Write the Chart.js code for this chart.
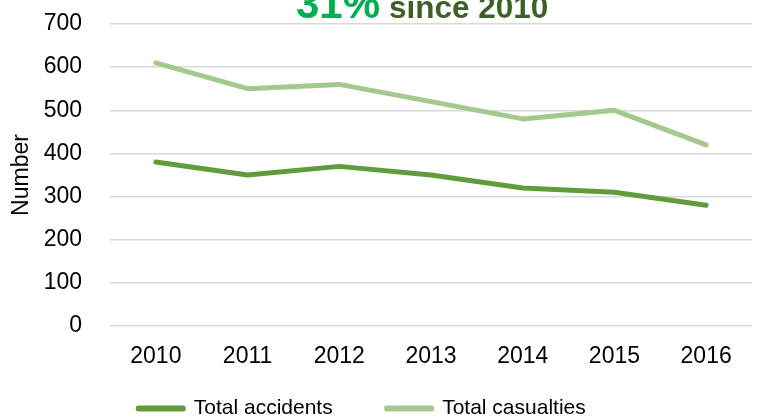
<!DOCTYPE html>
<html lang="en">
<head>
    <meta charset="UTF-8">
    <title>Accidents and casualties</title>
    <style>
        html, body { margin: 0; padding: 0; background: #fff; }
        #wrap { width: 761px; height: 419px; position: relative; }
    </style>
    <script src="https://cdn.jsdelivr.net/npm/chart.js"></script>
</head>
<body>
<div id="wrap"><canvas id="mychart" width="761" height="419"></canvas></div>
<script>
    // data
    const years = ['2010', '2011', '2012', '2013', '2014', '2015', '2016'];
    const accidents = [380, 350, 370, 350, 320, 310, 280];
    const casualties = [610, 550, 560, 520, 480, 500, 420];
    const yTicks = [0, 100, 200, 300, 400, 500, 600, 700];

    const FONT = "'Liberation Sans', Arial, sans-serif";

    // headline, partly cut off at the top like the original
    const headline = {
        id: 'headline',
        afterDraw(chart) {
            const ctx = chart.ctx;
            ctx.save();
            ctx.textBaseline = 'alphabetic';
            ctx.textAlign = 'left';
            ctx.font = 'bold 42px ' + FONT;
            ctx.fillStyle = '#00b050';
            ctx.fillText('31%', 296, 18);
            ctx.font = 'bold 31.5px ' + FONT;
            ctx.fillStyle = '#3b6128';
            ctx.fillText('since 2010', 389, 18);
            ctx.restore();
        }
    };

    // legend: small box for the layout, then stretched up/left so the items sit like the original
    const legendFix = {
        id: 'legendFix',
        afterInit(chart) {
            const lg = chart.legend;
            const fit = lg.fit;
            lg.fit = function () {
                fit.call(this);
                this.height = 41;
            };
        },
        afterLayout(chart) {
            const lg = chart.legend;
            lg.top -= 34;
            lg.height += 34;
            lg.left -= 18;
            lg.right -= 18;
        }
    };

    new Chart(document.getElementById('mychart'), {
        type: 'line',
        data: {
            labels: years,
            datasets: [{
                label: 'Total accidents',
                data: accidents,
                borderColor: '#609c3c',
                backgroundColor: '#609c3c',
                borderWidth: 5,
                borderCapStyle: 'round',
                borderJoinStyle: 'round',
                pointRadius: 0,
                tension: 0
            }, {
                label: 'Total casualties',
                data: casualties,
                borderColor: '#a3c98e',
                backgroundColor: '#a3c98e',
                borderWidth: 5,
                borderCapStyle: 'round',
                borderJoinStyle: 'round',
                pointRadius: 0,
                tension: 0
            }]
        },
        options: {
            responsive: false,
            animation: false,
            layout: { padding: { top: 24, left: 8, right: 9, bottom: 0 } },
            scales: {
                x: {
                    offset: true,
                    grid: { display: false, drawTicks: false },
                    border: { display: false },
                    ticks: { color: '#000', font: { family: FONT, size: 23 }, padding: 17 },
                    afterFit: s => { s.height = 52; }
                },
                y: {
                    min: 0,
                    max: 700,
                    afterBuildTicks: s => { s.ticks = yTicks.map(v => ({ value: v })); },
                    grid: { color: '#d9d9d9', lineWidth: 1.5, drawTicks: false },
                    border: { display: false },
                    ticks: { color: '#000', font: { family: FONT, size: 23 }, padding: 28 },
                    title: { display: true, text: 'Number', color: '#000', font: { family: FONT, size: 23 }, padding: 0 },
                    afterFit: s => {
                        s.width = 102;
                        s.paddingTop = 0;
                        s.paddingBottom = 0;
                    }
                }
            },
            plugins: {
                legend: {
                    position: 'bottom',
                    labels: {
                        color: '#000',
                        font: { family: FONT, size: 21 },
                        boxWidth: 45,
                        boxHeight: 1,
                        padding: 54
                    }
                },
                tooltip: { enabled: false }
            }
        },
        plugins: [headline, legendFix]
    });
</script>
</body>
</html>
